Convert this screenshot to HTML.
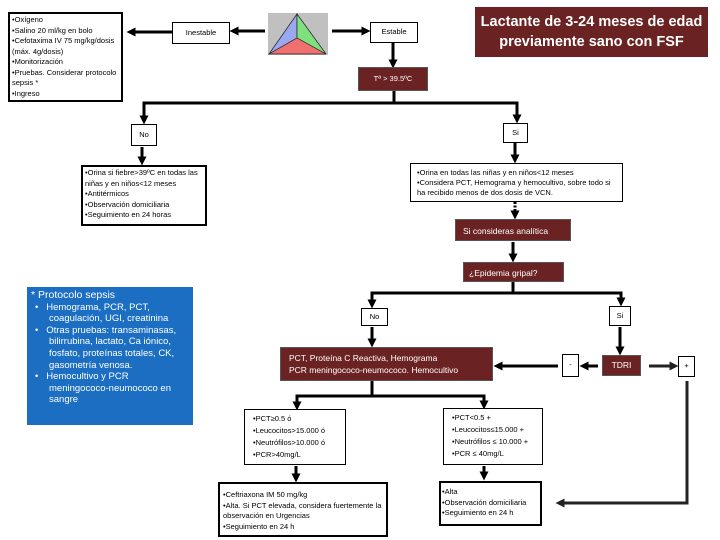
<!DOCTYPE html>
<html><head><meta charset="utf-8"><style>
body{margin:0;width:720px;height:540px;background:#fff;position:relative;overflow:hidden;font-family:"Liberation Sans",sans-serif}
.b{position:absolute;box-sizing:border-box;border:1px solid #000;background:#fff;font-size:7.5px;line-height:10.5px;color:#000;padding:1px 2px}
.t{border-width:2px}
.r{background:#6b2222;color:#fff;border:1px solid #555}
.c{display:flex;align-items:center;justify-content:center}
svg{position:absolute;left:0;top:0}
</style></head><body>
<svg width="720" height="540">
<defs><marker id="a" markerWidth="3" markerHeight="3" refX="1.5" refY="1.5" orient="auto"><path d="M0,0L3,1.5L0,3z" fill="#000"/></marker>
<marker id="g" markerWidth="3" markerHeight="3" refX="1.5" refY="1.5" orient="auto"><path d="M0,0L3,1.5L0,3z" fill="#222"/></marker></defs>
<g stroke="#000" stroke-width="3" fill="none">
<line x1="172" y1="32" x2="131" y2="32" marker-end="url(#a)"/>
<line x1="265" y1="31" x2="234" y2="31" marker-end="url(#a)"/>
<line x1="332" y1="31" x2="366" y2="31" marker-end="url(#a)"/>
<line x1="393" y1="43" x2="393" y2="64" marker-end="url(#a)"/>
<polyline points="394,91 394,103"/>
<polyline points="144,120 144,103 517,103 517,119" marker-end="url(#a)"/>
<line x1="144" y1="110" x2="144" y2="120" marker-end="url(#a)"/>
<line x1="142" y1="147" x2="142" y2="161" marker-end="url(#a)"/>
<line x1="515" y1="143" x2="515" y2="159" marker-end="url(#a)"/>
<line x1="515" y1="202" x2="515" y2="215" stroke-dasharray="2,1.5" marker-end="url(#a)"/>
<line x1="513" y1="242" x2="513" y2="258" marker-end="url(#a)"/>
<polyline points="513,282 513,293"/>
<polyline points="372,302 372,293 621,293 621,302"/>
<line x1="372" y1="296" x2="372" y2="304" marker-end="url(#a)"/>
<line x1="621" y1="296" x2="621" y2="302" marker-end="url(#a)"/>
<line x1="372" y1="327" x2="372" y2="343" marker-end="url(#a)"/>
<line x1="620" y1="327" x2="620" y2="351" marker-end="url(#a)"/>
<line x1="598" y1="366" x2="584" y2="366" marker-end="url(#a)"/>
<line x1="558" y1="366" x2="498" y2="366" marker-end="url(#a)"/>
<line x1="649" y1="366" x2="674" y2="366" stroke="#222" marker-end="url(#g)"/>
<polyline points="687,381 687,503 560,503" stroke="#222" marker-end="url(#g)"/>
<polyline points="372,381 372,396"/>
<polyline points="297,405 297,396 484,396 484,405"/>
<line x1="297" y1="398" x2="297" y2="406" marker-end="url(#a)"/>
<line x1="484" y1="398" x2="484" y2="405" marker-end="url(#a)"/>
<line x1="296" y1="466" x2="296" y2="478" marker-end="url(#a)"/>
<line x1="484" y1="466" x2="484" y2="476" marker-end="url(#a)"/>
</g>
<rect x="268" y="13" width="60" height="42" fill="#c0c0c0"/>
<polygon points="297,14 269,54 297,38" fill="#9aa8f0" stroke="#222" stroke-width=".7"/>
<polygon points="297,14 326,54 297,38" fill="#7fe07f" stroke="#222" stroke-width=".7"/>
<polygon points="269,54 326,54 297,38" fill="#f07070" stroke="#222" stroke-width=".7"/>
</svg>
<div class="b t" style="left:8px;top:12px;width:115px;height:90px">•Oxígeno<br>•Salino 20 ml/kg en bolo<br>•Cefotaxima IV 75 mg/kg/dosis (máx. 4g/dosis)<br>•Monitorización<br>•Pruebas. Considerar protocolo sepsis *<br>•Ingreso</div>
<div class="b c" style="left:172px;top:22px;width:58px;height:22px">Inestable</div>
<div class="b c" style="left:370px;top:22px;width:48px;height:21px">Estable</div>
<div class="b r" style="left:475px;top:7px;width:233px;height:50px;border:none;font-size:14.5px;line-height:20px;font-weight:bold;text-align:center;padding-top:5px">Lactante de 3-24 meses de edad previamente sano con FSF</div>
<div class="b r c" style="left:358px;top:67px;width:70px;height:24px">Tª &gt; 39.5ºC</div>
<div class="b c" style="left:131px;top:124px;width:26px;height:22px">No</div>
<div class="b c" style="left:503px;top:123px;width:25px;height:20px">Si</div>
<div class="b t" style="left:81px;top:165px;width:126px;height:61px">•Orina si fiebre&gt;39ºC en todas las niñas y en niños&lt;12 meses<br>•Antitérmicos<br>•Observación domiciliaria<br>•Seguimiento en 24 horas</div>
<div class="b" style="left:410px;top:163px;width:213px;height:39px;padding:4px 6px 0;line-height:10px">•Orina en todas las niñas y en niños&lt;12 meses<br>•Considera PCT, Hemograma y hemocultivo, sobre todo si ha recibido menos de dos dosis de VCN.</div>
<div class="b r" style="left:455px;top:219px;width:116px;height:22px;font-size:8.5px;line-height:20px;padding-left:7px">Si consideras analítica</div>
<div class="b r" style="left:463px;top:262px;width:101px;height:20px;font-size:8.5px;line-height:18px;padding-left:5px">¿Epidemia gripal?</div>
<div class="b" style="left:27px;top:287px;width:166px;height:138px;background:#1b6ec2;border:none;color:#fff;font-size:9.5px;line-height:11.6px;padding:3px 4px"><div style="font-size:10.5px">* Protocolo sepsis</div>
<div style="padding-left:18px;text-indent:-14px">•&nbsp;&nbsp; Hemograma, PCR, PCT, coagulación, UGI, creatinina</div>
<div style="padding-left:18px;text-indent:-14px">•&nbsp;&nbsp; Otras pruebas: transaminasas, bilirrubina, lactato, Ca iónico, fosfato, proteínas totales, CK, gasometría venosa.</div>
<div style="padding-left:18px;text-indent:-14px">•&nbsp;&nbsp; Hemocultivo y PCR meningococo-neumococo en sangre</div></div>
<div class="b c" style="left:361px;top:308px;width:27px;height:18px">No</div>
<div class="b c" style="left:609px;top:306px;width:22px;height:20px">Si</div>
<div class="b r" style="left:280px;top:347px;width:213px;height:34px;font-size:8.5px;line-height:12px;padding:4px 8px">PCT, Proteína C Reactiva, Hemograma<br>PCR meningococo-neumococo. Hemocultivo</div>
<div class="b c" style="left:562px;top:354px;width:17px;height:23px">-</div>
<div class="b r c" style="left:602px;top:355px;width:39px;height:21px;font-size:8.5px">TDRI</div>
<div class="b c" style="left:678px;top:356px;width:17px;height:21px">+</div>
<div class="b" style="left:244px;top:409px;width:102px;height:56px;padding:3px 8px;line-height:12px">•PCT≥0.5 ó<br>•Leucocitos&gt;15.000 ó<br>•Neutrófilos&gt;10.000 ó<br>•PCR&gt;40mg/L</div>
<div class="b" style="left:443px;top:408px;width:100px;height:57px;padding:3px 8px;line-height:12px">•PCT&lt;0.5 +<br>•Leucocitos≤15.000 +<br>•Neutrófilos ≤ 10.000 +<br>•PCR ≤ 40mg/L</div>
<div class="b t" style="left:218px;top:482px;width:170px;height:55px;padding:6px 3px 0;line-height:10.5px">•Ceftriaxona IM 50 mg/kg<br>•Alta. Si PCT elevada, considera fuertemente la observación en Urgencias<br>•Seguimiento en 24 h</div>
<div class="b t" style="left:439px;top:481px;width:103px;height:45px;padding:4px 1px 0;line-height:10.5px">•Alta<br>•Observación domiciliaria<br>•Seguimiento en 24 h</div>
</body></html>
